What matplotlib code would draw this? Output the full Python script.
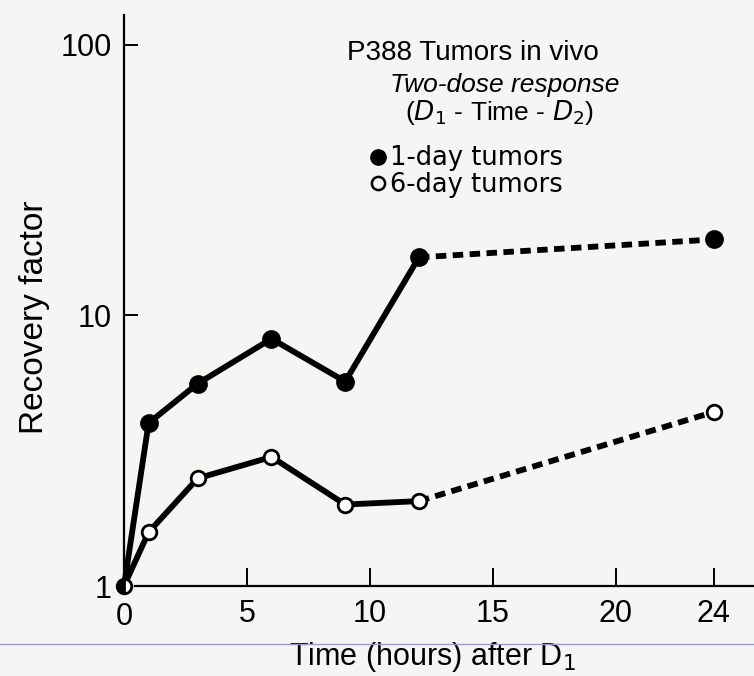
import matplotlib
matplotlib.use("Agg")
import matplotlib.pyplot as plt
from matplotlib.lines import Line2D

# data (recovery factor vs hours after D1)
hours = [0, 1, 3, 6, 9, 12, 24]
day1 = [1.0, 4.0, 5.6, 8.2, 5.7, 16.4, 19.1]
day6 = [1.0, 1.58, 2.5, 3.0, 2.0, 2.06, 4.4]
solid_upto = 6  # points 0..5 joined with a solid line, 12->24 dashed

xticks = [5, 10, 15, 20, 24]
yticks = [1, 10, 100]

plt.rcParams['font.family'] = ['Liberation Sans', 'DejaVu Sans']

bg = '#f5f5f4'
fig = plt.figure(figsize=(7.54, 6.76), dpi=100, facecolor=bg)
ax = fig.add_axes([124 / 754, (676 - 586) / 676, 1 - 124 / 754, (586 - 15) / 676])
ax.set_facecolor(bg)

ax.set_yscale('log')
ax.set_xlim(0, 25.63)
ax.set_ylim(1, 129)

lw = 4.2
dash = (0, (1.8, 1.1))
for vals, face in [(day1, 'black'), (day6, 'white')]:
    ax.plot(hours[:solid_upto], vals[:solid_upto], color='black', lw=lw,
            solid_capstyle='round', zorder=2, clip_on=False)
    ax.plot(hours[solid_upto - 1:], vals[solid_upto - 1:], color='black', lw=lw,
            linestyle=dash, dash_capstyle='butt', zorder=2, clip_on=False)
    ax.plot(hours[1:], vals[1:], linestyle='none', marker='o',
            markersize=11.5 if face == 'black' else 10.5,
            markerfacecolor=face, markeredgecolor='black', markeredgewidth=2,
            zorder=3, clip_on=False)

# shared starting point, half filled
ax.plot(hours[0], day1[0], marker='o', markersize=10.5, fillstyle='left',
        markerfacecolor='black', markerfacecoloralt='white',
        markeredgecolor='black', markeredgewidth=2, zorder=4, clip_on=False)

for s in ['top', 'right']:
    ax.spines[s].set_visible(False)
ax.spines['left'].set_linewidth(1.6)
ax.spines['bottom'].set_linewidth(1.6)
ax.spines['bottom'].set_bounds(0.45, 25.63)

ax.set_xticks(xticks)
ax.set_xticklabels([str(t) for t in xticks])
ax.set_yticks(yticks)
ax.set_yticklabels([str(t) for t in yticks])
ax.minorticks_off()
ax.tick_params(axis='x', direction='in', length=13, width=1.4, pad=9,
               labelsize=22)
ax.tick_params(axis='y', direction='in', length=10, width=1.4, pad=9,
               labelsize=22)
ax.yaxis.get_major_ticks()[0].tick1line.set_visible(False)
# zero label on x axis (no tick there)
ax.text(0, -0.028, '0', transform=ax.get_xaxis_transform(), ha='center',
        va='top', fontsize=22)

ax.set_ylabel('Recovery factor', fontsize=24)
ax.yaxis.set_label_coords(-0.118, 0.47)
ax.set_xlabel('Time (hours) after D$_{\\mathsf{1}}$', fontsize=22)
ax.xaxis.set_label_coords(0.49, -0.095)

# annotation block
ax.text(0.354, 0.921, 'P388 Tumors in vivo', transform=ax.transAxes,
        fontsize=20, ha='left', va='baseline')
ax.text(0.422, 0.865, 'Two-dose response', transform=ax.transAxes,
        fontsize=19, style='italic', ha='left', va='baseline')
ax.text(0.446, 0.816, '($D_{\\mathsf{1}}$ - Time - $D_2$)', transform=ax.transAxes,
        fontsize=19, ha='left', va='baseline')
ax.plot([0.403], [0.751], transform=ax.transAxes, marker='o', markersize=11,
        color='black', clip_on=False)
ax.plot([0.403], [0.706], transform=ax.transAxes, marker='o', markersize=9.5,
        markerfacecolor=bg, markeredgecolor='black', markeredgewidth=1.8,
        clip_on=False)
ax.text(0.422, 0.737, '1-day tumors', transform=ax.transAxes, fontsize=18.5,
        family='DejaVu Sans', ha='left', va='baseline')
ax.text(0.422, 0.69, '6-day tumors', transform=ax.transAxes, fontsize=18.5,
        family='DejaVu Sans', ha='left', va='baseline')

# thin blue rule from the scan
fig.add_artist(Line2D([0, 1], [(676 - 644) / 676] * 2, color='#9a9ad8',
                      lw=1.0, transform=fig.transFigure))

fig.savefig('out.png', dpi=100, facecolor=bg)
